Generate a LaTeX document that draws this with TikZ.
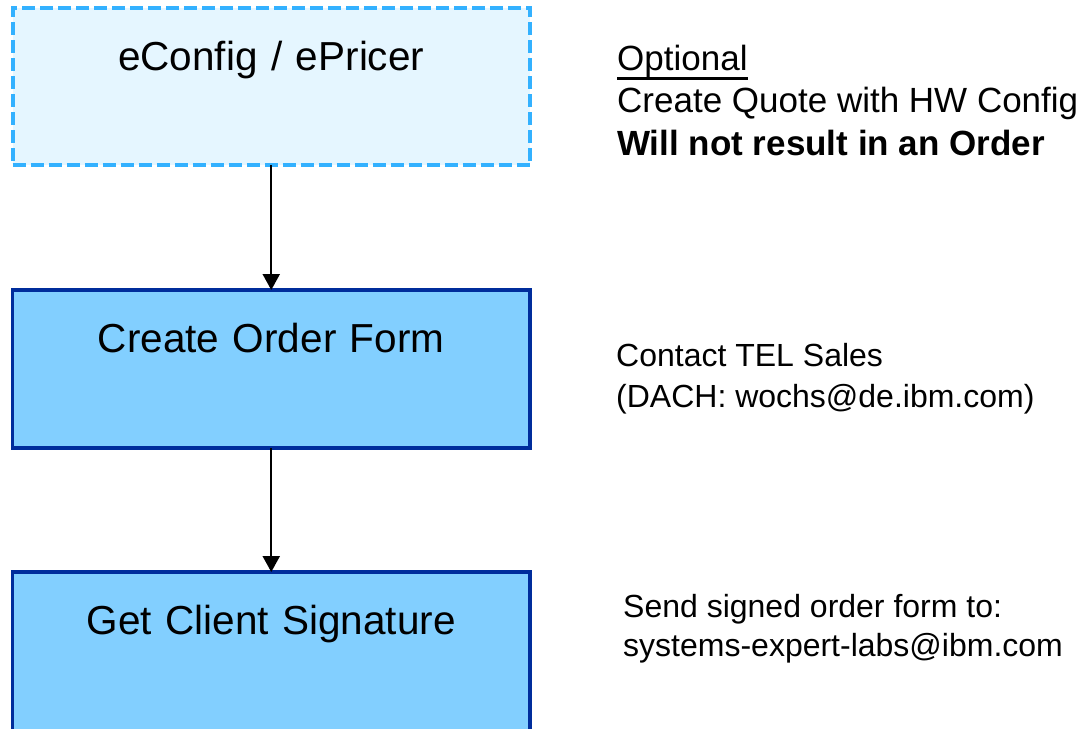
\documentclass[tikz,border=0pt]{standalone}
\usepackage{fontspec}
\setmainfont{Liberation Sans}
\usepackage{tikz}
\usetikzlibrary{arrows.meta,positioning}

\definecolor{quotefill}{HTML}{E5F6FF}
\definecolor{quotedraw}{HTML}{33B1FF}
\definecolor{orderfill}{HTML}{82CFFF}
\definecolor{orderdraw}{HTML}{002D9C}

\newcommand{\thickul}[1]{\setbox0\hbox{#1}\rlap{\rule[-9.5pt]{\wd0}{2.4pt}}\box0}

\begin{document}
\begin{tikzpicture}[x=1pt,y=-1pt,
	stepbox/.style={rectangle, inner sep=0pt, outer sep=0pt, anchor=north west,
		text width=517.5pt, align=center, text height=62pt,
		font=\fontsize{40.5}{48}\selectfont},
	optbox/.style={stepbox, fill=quotefill, draw=quotedraw, line width=4pt,
		dash pattern=on 13pt off 5pt},
	ordbox/.style={stepbox, fill=orderfill, draw=orderdraw, line width=3.5pt},
	flow/.style={-{Triangle[width=17pt,length=16pt]}, line width=2.2pt},
	note/.style={anchor=base west, align=left, inner sep=0pt}
]

	\useasboundingbox (0,0) rectangle (1081,728);

	% left column
	\node[optbox, text depth=95pt] (econfig) at (12.5,8) {eConfig / ePricer};
	\node[ordbox, text depth=96pt] (orderform) at (12.5,290) {Create Order Form};
	\node[ordbox, text depth=110pt] (signature) at (12.5,572) {Get Client Signature};

	\draw[flow] (econfig.south) -- (orderform.north);
	\draw[flow] (orderform.south) -- (signature.north);

	% right column (base = last line)
	\node[note, font=\fontsize{35}{42.5}\selectfont] (optnote) at (617,155)
		{\thickul{Optional}\\Create Quote with HW Config\\\textbf{Will not result in an Order}};
	\node[note, font=\fontsize{32}{41}\selectfont] (telnote) at (616,407)
		{Contact TEL Sales\\(DACH: wochs@de.ibm.com)};
	\node[note, font=\fontsize{32}{39.5}\selectfont] (signnote) at (623,656.5)
		{Send signed order form to:\\systems-expert-labs@ibm.com};

\end{tikzpicture}
\end{document}
